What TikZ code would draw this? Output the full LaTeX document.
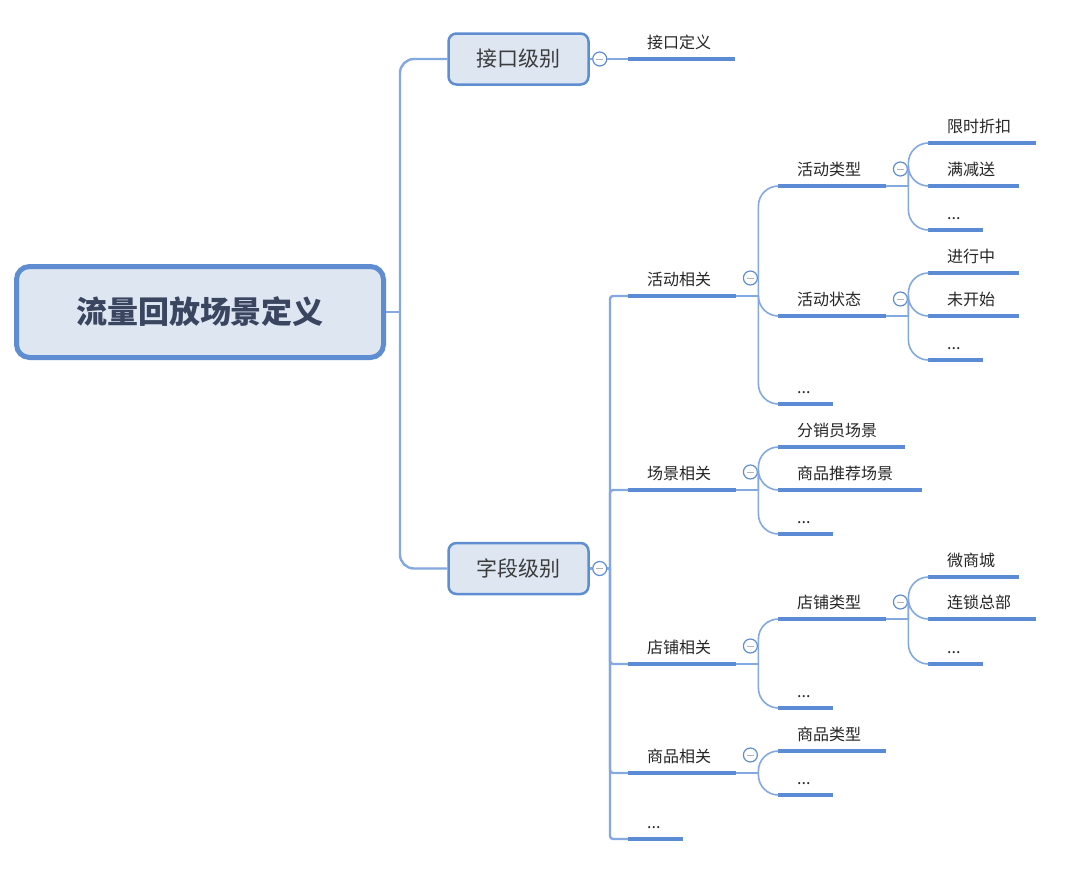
\documentclass[tikz,border=0pt]{standalone}
\usepackage{fontspec}
\setmainfont{Noto Sans CJK SC}
\usepackage{xcolor}
\usetikzlibrary{calc, positioning}

\definecolor{ulblue}{RGB}{90,139,212}
\definecolor{connblue}{RGB}{132,168,224}
\definecolor{boxfill}{RGB}{222,230,242}
\definecolor{boxline}{RGB}{94,141,210}
\definecolor{txtgray}{RGB}{38,38,38}
\definecolor{roottxt}{RGB}{58,70,96}

\tikzset{
    rootbox/.style={draw=boxline, fill=boxfill, line width=5pt, rounded corners=13pt,
        minimum width=367pt, minimum height=91pt, text=roottxt,
        font=\fontsize{31}{35}\selectfont\bfseries},
    levelbox/.style={draw=boxline, fill=boxfill, line width=2.5pt, rounded corners=8pt,
        minimum width=140pt, minimum height=51pt, text=txtgray!90,
        font=\fontsize{21}{24}\selectfont},
    topic/.style={anchor=south west, inner xsep=19pt, inner ysep=10pt, text depth=0pt,
        text width=#1-38pt, align=left, text=txtgray, font=\fontsize{16}{19}\selectfont,
        append after command={(\tikzlastnode.south west)
            edge[draw=ulblue, line width=3.5pt] (\tikzlastnode.south east)}},
    fold/.style={circle, draw=boxline, fill=white, line width=1.2pt, inner sep=0pt,
        minimum size=14pt,
        path picture={\draw[gray!60, line width=0.9pt]
            ([xshift=-3.5pt]path picture bounding box.center) --
            ([xshift=3.5pt]path picture bounding box.center);}},
    conn/.style={draw=connblue, line width=1.6pt},
    trunk/.style={draw=connblue, line width=2.4pt},
}

\begin{document}
\begin{tikzpicture}[x=1pt, y=-1pt]
    \fill[white] (0,0) rectangle (1080,870);
    \useasboundingbox (0,0) rectangle (1080,870);

    % 1. 中心主题与两个级别
    \node[rootbox] (root) at (200,312) {流量回放场景定义};
    \node[levelbox] (jkjb) at (518.5,59) {接口级别};
    \node[levelbox] (zdjb) at (518.5,568.5) {字段级别};
    \coordinate (rj) at (400,312);
    \draw[trunk] (root.east) -- (rj);
    \draw[trunk, rounded corners=14pt] (rj) |- (jkjb.west);
    \draw[trunk, rounded corners=14pt] (rj) |- (zdjb.west);

    % 2. 接口级别
    \node[fold] (fjk) at ($(jkjb.east)+(10,0)$) {};
    \node[topic=107pt] (jkdy) at (628,59) {接口定义};
    \draw[conn] (jkjb.east) -- (fjk) -- (jkdy.south west);

    % 3. 字段级别的分支
    \node[fold] (fzd) at ($(zdjb.east)+(10,0)$) {};
    \coordinate (zj) at (610,568.5);
    \draw[trunk] (zdjb.east) -- (fzd) -- (zj);
    \node[topic=108pt] (hdxg) at (628,296) {活动相关};
    \node[topic=108pt] (cjxg) at (628,490) {场景相关};
    \node[topic=108pt] (dpxg) at (628,664) {店铺相关};
    \node[topic=108pt] (spxg) at (628,773) {商品相关};
    \node[topic=55pt] (zdqt) at (628,839) {...};
    \foreach \n in {hdxg, cjxg, dpxg, spxg, zdqt}
        \draw[trunk, rounded corners=3pt] (zj) |- (\n.south west);

    % 4. 活动相关
    \node[fold] (fhd) at ($(hdxg.south east)+(14,-18)$) {};
    \coordinate (hdj) at ($(hdxg.south east)+(22,0)$);
    \node[topic=108pt] (hdlx) at (778,186) {活动类型};
    \node[topic=108pt] (hdzt) at (778,316) {活动状态};
    \node[topic=55pt] (hdqt) at (778,404) {...};
    \draw[conn] (hdxg.south east) -- (hdj);
    \foreach \n in {hdlx, hdzt, hdqt}
        \draw[conn, rounded corners=20pt] (hdj) |- (\n.south west);

    % 活动类型
    \node[fold] (flx) at ($(hdlx.south east)+(14,-17)$) {};
    \coordinate (lxj) at ($(hdlx.south east)+(22,0)$);
    \node[topic=108pt] (xszk) at (928,143) {限时折扣};
    \node[topic=91pt] (mjs) at (928,186) {满减送};
    \node[topic=55pt] (lxqt) at (928,230) {...};
    \draw[conn] (hdlx.south east) -- (lxj);
    \foreach \n in {xszk, mjs, lxqt}
        \draw[conn, rounded corners=20pt] (lxj) |- (\n.south west);

    % 活动状态
    \node[fold] (fzt) at ($(hdzt.south east)+(14,-17)$) {};
    \coordinate (ztj) at ($(hdzt.south east)+(22,0)$);
    \node[topic=91pt] (jxz) at (928,273) {进行中};
    \node[topic=91pt] (wks) at (928,316) {未开始};
    \node[topic=55pt] (ztqt) at (928,360) {...};
    \draw[conn] (hdzt.south east) -- (ztj);
    \foreach \n in {jxz, wks, ztqt}
        \draw[conn, rounded corners=20pt] (ztj) |- (\n.south west);

    % 5. 场景相关
    \node[fold] (fcj) at ($(cjxg.south east)+(14,-18)$) {};
    \coordinate (cjj) at ($(cjxg.south east)+(22,0)$);
    \node[topic=127pt] (fxy) at (778,447) {分销员场景};
    \node[topic=144pt] (sptj) at (778,490) {商品推荐场景};
    \node[topic=55pt] (cjqt) at (778,534) {...};
    \draw[conn] (cjxg.south east) -- (cjj);
    \foreach \n in {fxy, sptj, cjqt}
        \draw[conn, rounded corners=20pt] (cjj) |- (\n.south west);

    % 6. 店铺相关
    \node[fold] (fdp) at ($(dpxg.south east)+(14,-18)$) {};
    \coordinate (dpj) at ($(dpxg.south east)+(22,0)$);
    \node[topic=108pt] (dplx) at (778,619) {店铺类型};
    \node[topic=55pt] (dpqt) at (778,708) {...};
    \draw[conn] (dpxg.south east) -- (dpj);
    \foreach \n in {dplx, dpqt}
        \draw[conn, rounded corners=20pt] (dpj) |- (\n.south west);

    % 店铺类型
    \node[fold] (fdl) at ($(dplx.south east)+(14,-17)$) {};
    \coordinate (dlj) at ($(dplx.south east)+(22,0)$);
    \node[topic=91pt] (wsc) at (928,577) {微商城};
    \node[topic=108pt] (lszb) at (928,619) {连锁总部};
    \node[topic=55pt] (dlqt) at (928,664) {...};
    \draw[conn] (dplx.south east) -- (dlj);
    \foreach \n in {wsc, lszb, dlqt}
        \draw[conn, rounded corners=20pt] (dlj) |- (\n.south west);

    % 7. 商品相关
    \node[fold] (fsp) at ($(spxg.south east)+(14,-18)$) {};
    \coordinate (spj) at ($(spxg.south east)+(22,0)$);
    \node[topic=108pt] (splx) at (778,751) {商品类型};
    \node[topic=55pt] (spqt) at (778,795) {...};
    \draw[conn] (spxg.south east) -- (spj);
    \foreach \n in {splx, spqt}
        \draw[conn, rounded corners=20pt] (spj) |- (\n.south west);
\end{tikzpicture}
\end{document}
